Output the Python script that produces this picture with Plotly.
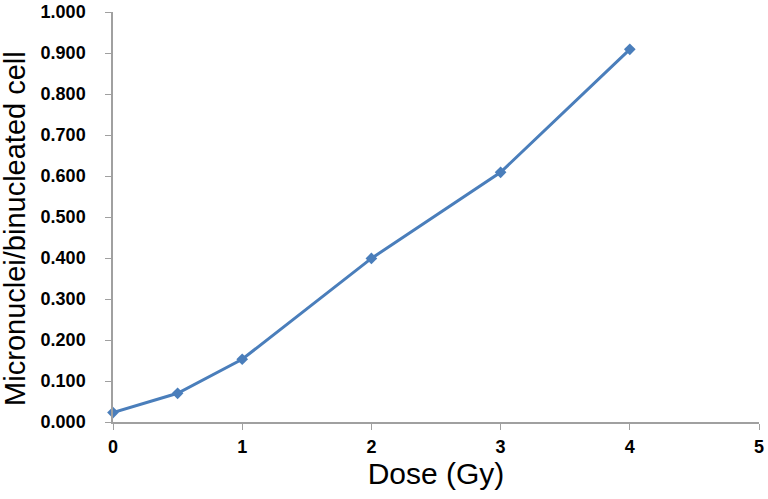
import plotly.graph_objects as go

dose = [0, 0.5, 1, 2, 3, 4]
mn_per_bn = [0.023, 0.070, 0.153, 0.399, 0.609, 0.909]

fig = go.Figure()
fig.add_trace(go.Scatter(
    x=dose, y=mn_per_bn,
    mode="lines+markers",
    line=dict(color="#4A7EBB", width=3),
    marker=dict(symbol="diamond", size=9, color="#4A7EBB"),
    showlegend=False,
    cliponaxis=False,
))

axis_font = dict(family="Liberation Sans", size=18, color="black", weight="bold")
fig.update_layout(
    width=768, height=499,
    margin=dict(l=113, r=9, t=12, b=77),
    plot_bgcolor="white",
    paper_bgcolor="white",
    font=dict(family="Liberation Sans", color="black"),
    xaxis=dict(
        range=[0, 5], dtick=1, tick0=0,
        showline=True, linecolor="#A0A0A0", linewidth=1.5,
        ticks="outside", ticklen=6, tickcolor="#A0A0A0",
        ticklabelstandoff=2,
        showgrid=False, zeroline=False, automargin=False,
        tickfont=axis_font,
        title=dict(text="Dose (Gy)", font=dict(size=30), standoff=4),
    ),
    yaxis=dict(
        range=[0, 1], dtick=0.1, tick0=0, tickformat=".3f",
        showline=True, linecolor="#A0A0A0", linewidth=1.5,
        ticks="outside", ticklen=6, tickcolor="#A0A0A0",
        ticklabelstandoff=16,
        showgrid=False, zeroline=False, automargin=False,
        tickfont=axis_font,
    ),
    annotations=[dict(
        text="Micronuclei/binucleated cell",
        xref="paper", yref="paper", x=-0.152, y=0.473,
        xanchor="center", yanchor="middle", textangle=-90,
        showarrow=False, font=dict(size=29),
    )],
)

# drop the default 8px page margin so the figure sits at the window's corner
fig.write_html("out.html", config={"displayModeBar": False},
               post_script="document.body.style.margin='0';")
